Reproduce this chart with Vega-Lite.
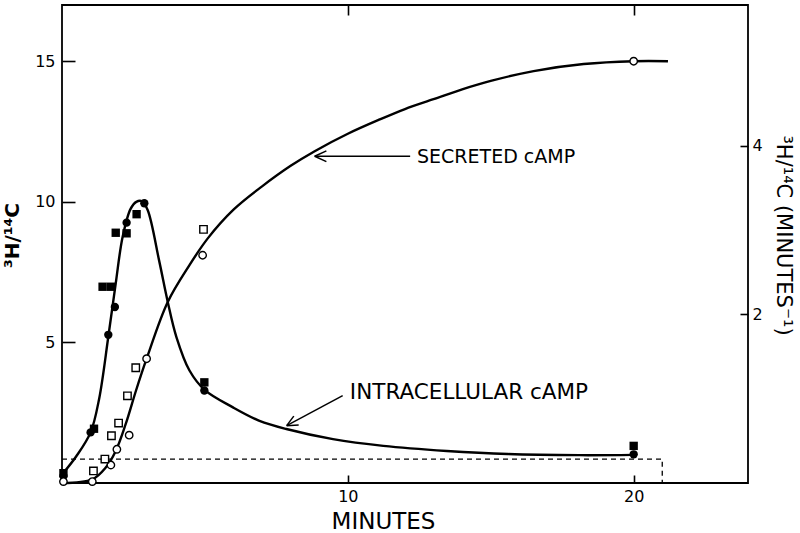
{
  "$schema": "https://vega.github.io/schema/vega-lite/v6.json",
  "autosize": {"type": "none"},
  "padding": {"left": 62, "top": 5, "right": 52, "bottom": 50},
  "width": 686,
  "height": 478,
  "background": "white",
  "config": {
    "view": {"stroke": "black", "strokeWidth": 1.8},
    "font": "DejaVu Sans",
    "axis": {"ticks": true, "zindex": 1}
  },
  "datasets": {
    "curves": [
      {"series": "intra", "t": 0, "v": 0.3},
      {"series": "intra", "t": 0.5, "v": 0.95},
      {"series": "intra", "t": 1.0, "v": 1.8},
      {"series": "intra", "t": 1.3, "v": 3.0},
      {"series": "intra", "t": 1.62, "v": 5.2},
      {"series": "intra", "t": 1.88, "v": 7.1},
      {"series": "intra", "t": 2.12, "v": 8.75},
      {"series": "intra", "t": 2.4, "v": 9.75},
      {"series": "intra", "t": 2.6, "v": 10.0},
      {"series": "intra", "t": 2.8, "v": 10.02},
      {"series": "intra", "t": 3.0, "v": 9.7},
      {"series": "intra", "t": 3.4, "v": 7.9},
      {"series": "intra", "t": 3.7, "v": 6.44},
      {"series": "intra", "t": 4.0, "v": 5.2},
      {"series": "intra", "t": 4.46, "v": 4.0},
      {"series": "intra", "t": 5.0, "v": 3.3},
      {"series": "intra", "t": 5.98, "v": 2.69},
      {"series": "intra", "t": 6.91, "v": 2.21},
      {"series": "intra", "t": 7.85, "v": 1.92},
      {"series": "intra", "t": 9.48, "v": 1.56},
      {"series": "intra", "t": 11.24, "v": 1.32},
      {"series": "intra", "t": 13.46, "v": 1.14},
      {"series": "intra", "t": 15.6, "v": 1.03},
      {"series": "intra", "t": 18.1, "v": 0.99},
      {"series": "intra", "t": 20, "v": 1.0},
      {"series": "secr", "t": 0, "v": 0.0},
      {"series": "secr", "t": 1.06, "v": 0.13},
      {"series": "secr", "t": 1.53, "v": 0.55},
      {"series": "secr", "t": 1.88, "v": 1.14},
      {"series": "secr", "t": 2.23, "v": 2.1},
      {"series": "secr", "t": 2.59, "v": 3.29},
      {"series": "secr", "t": 2.96, "v": 4.42},
      {"series": "secr", "t": 3.7, "v": 6.44},
      {"series": "secr", "t": 4.46, "v": 7.75},
      {"series": "secr", "t": 5.1, "v": 8.7},
      {"series": "secr", "t": 6.0, "v": 9.72},
      {"series": "secr", "t": 7.0, "v": 10.55},
      {"series": "secr", "t": 8.0, "v": 11.28},
      {"series": "secr", "t": 8.84, "v": 11.8},
      {"series": "secr", "t": 10.0, "v": 12.42},
      {"series": "secr", "t": 11.12, "v": 12.93},
      {"series": "secr", "t": 12.0, "v": 13.3},
      {"series": "secr", "t": 13.0, "v": 13.65},
      {"series": "secr", "t": 14.0, "v": 14.0},
      {"series": "secr", "t": 15.0, "v": 14.3},
      {"series": "secr", "t": 16.5, "v": 14.65},
      {"series": "secr", "t": 18.25, "v": 14.9},
      {"series": "secr", "t": 20.0, "v": 15.0},
      {"series": "secr", "t": 21.2, "v": 15.0}
    ],
    "filled": [
      {"shape": "circle", "t": 0.05, "v": 0.25},
      {"shape": "square", "t": 0.05, "v": 0.35},
      {"shape": "circle", "t": 1.0, "v": 1.8},
      {"shape": "square", "t": 1.12, "v": 1.93},
      {"shape": "circle", "t": 1.62, "v": 5.27},
      {"shape": "circle", "t": 1.85, "v": 6.26},
      {"shape": "circle", "t": 2.26, "v": 9.26},
      {"shape": "circle", "t": 2.88, "v": 9.95},
      {"shape": "circle", "t": 4.98, "v": 3.29},
      {"shape": "circle", "t": 20, "v": 1.02},
      {"shape": "square", "t": 1.42, "v": 6.98},
      {"shape": "square", "t": 1.71, "v": 6.98},
      {"shape": "square", "t": 1.88, "v": 8.9},
      {"shape": "square", "t": 2.26, "v": 8.88},
      {"shape": "square", "t": 2.61, "v": 9.56},
      {"shape": "square", "t": 4.98, "v": 3.58},
      {"shape": "square", "t": 20, "v": 1.32}
    ],
    "open": [
      {"shape": "circle", "t": 0.05, "v": 0.05},
      {"shape": "circle", "t": 1.06, "v": 0.05},
      {"shape": "circle", "t": 1.71, "v": 0.64},
      {"shape": "circle", "t": 1.92, "v": 1.2},
      {"shape": "circle", "t": 2.35, "v": 1.7},
      {"shape": "circle", "t": 2.96, "v": 4.42},
      {"shape": "circle", "t": 4.92, "v": 8.1},
      {"shape": "circle", "t": 20, "v": 15.0},
      {"shape": "square", "t": 1.1, "v": 0.43},
      {"shape": "square", "t": 1.5, "v": 0.85},
      {"shape": "square", "t": 1.73, "v": 1.68},
      {"shape": "square", "t": 1.98, "v": 2.13},
      {"shape": "square", "t": 2.29, "v": 3.1},
      {"shape": "square", "t": 2.58, "v": 4.1},
      {"shape": "square", "t": 4.95, "v": 9.02}
    ],
    "box": [
      {"i": 1, "t": 0, "v": 0.85},
      {"i": 2, "t": 21.0, "v": 0.85},
      {"i": 3, "t": 21.0, "v": 0}
    ],
    "arrows": [
      {"t": 12.18, "v": 11.62, "t2": 8.84, "v2": 11.62},
      {"t": 8.84, "v": 11.62, "t2": 9.25, "v2": 11.81},
      {"t": 8.84, "v": 11.62, "t2": 9.25, "v2": 11.43},
      {"t": 9.82, "v": 3.11, "t2": 7.86, "v2": 2.04},
      {"t": 7.86, "v": 2.04, "t2": 8.28, "v2": 2.06},
      {"t": 7.86, "v": 2.04, "t2": 8.11, "v2": 2.38}
    ],
    "label1": [
      {"t": 12.42, "v": 11.6, "text": "SECRETED cAMP"}
    ],
    "label2": [
      {"t": 10.07, "v": 3.21, "text": "INTRACELLULAR cAMP"}
    ],
    "right": [
      {"t": 0, "r": 0},
      {"t": 24, "r": 5.667}
    ]
  },
  "layer": [
    {
      "layer": [
        {
          "data": {"name": "box"},
          "mark": {"type": "line", "color": "black", "strokeWidth": 1.3, "strokeDash": [5, 4]},
          "encoding": {
            "x": {"field": "t", "type": "quantitative"},
            "y": {"field": "v", "type": "quantitative"},
            "order": {"field": "i"}
          }
        },
        {
          "data": {"name": "curves"},
          "mark": {"type": "line", "color": "black", "strokeWidth": 2.4, "interpolate": "catmull-rom"},
          "encoding": {
            "x": {"field": "t", "type": "quantitative"},
            "y": {"field": "v", "type": "quantitative"},
            "detail": {"field": "series"}
          }
        },
        {
          "data": {"name": "arrows"},
          "mark": {"type": "rule", "color": "black", "strokeWidth": 1.5},
          "encoding": {
            "x": {"field": "t", "type": "quantitative"},
            "y": {"field": "v", "type": "quantitative"},
            "x2": {"field": "t2"},
            "y2": {"field": "v2"}
          }
        },
        {
          "data": {"name": "filled"},
          "mark": {"type": "point", "filled": true, "color": "black", "size": 70, "opacity": 1},
          "encoding": {
            "x": {"field": "t", "type": "quantitative"},
            "y": {"field": "v", "type": "quantitative"},
            "shape": {"field": "shape", "type": "nominal", "scale": {"domain": ["circle", "square"], "range": ["circle", "square"]}, "legend": null}
          }
        },
        {
          "data": {"name": "open"},
          "mark": {"type": "point", "filled": false, "fill": "white", "fillOpacity": 1, "stroke": "black", "strokeWidth": 1.4, "size": 55, "opacity": 1},
          "encoding": {
            "x": {"field": "t", "type": "quantitative"},
            "y": {"field": "v", "type": "quantitative"},
            "shape": {"field": "shape", "type": "nominal", "scale": {"domain": ["circle", "square"], "range": ["circle", "square"]}, "legend": null}
          }
        },
        {
          "data": {"name": "label1"},
          "mark": {"type": "text", "align": "left", "baseline": "middle", "fontSize": 19, "font": "DejaVu Sans", "color": "black"},
          "encoding": {
            "x": {"field": "t", "type": "quantitative"},
            "y": {"field": "v", "type": "quantitative"},
            "text": {"field": "text"}
          }
        },
        {
          "data": {"name": "label2"},
          "mark": {"type": "text", "align": "left", "baseline": "middle", "fontSize": 21.5, "font": "DejaVu Sans", "color": "black"},
          "encoding": {
            "x": {"field": "t", "type": "quantitative"},
            "y": {"field": "v", "type": "quantitative"},
            "text": {"field": "text"}
          }
        }
      ],
      "encoding": {
        "x": {
          "type": "quantitative",
          "scale": {"domain": [0, 24], "nice": false, "zero": false},
          "axis": {
            "orient": "bottom", "values": [10, 20], "grid": false, "domain": false, "ticks": true,
            "offset": -8, "tickSize": 8, "tickColor": "black", "tickWidth": 1.6, "tickOpacity": 1,
            "labelFontSize": 16, "labelColor": "black", "labelPadding": 5, "labelFont": "DejaVu Sans",
            "title": "MINUTES", "titleFontSize": 23, "titleFontWeight": "normal", "titleColor": "black",
            "titleFont": "DejaVu Sans", "titleX": 321, "titleY": 46, "titleBaseline": "middle"
          }
        },
        "y": {
          "type": "quantitative",
          "scale": {"domain": [0, 17], "nice": false, "zero": false},
          "axis": {
            "orient": "left", "values": [5, 10, 15], "grid": false, "domain": false, "ticks": true,
            "offset": -13, "tickSize": 13, "tickColor": "black", "tickWidth": 1.6, "tickOpacity": 1,
            "labelFontSize": 16, "labelColor": "black", "labelPadding": 7, "labelFont": "DejaVu Sans",
            "title": "³H/¹⁴C", "titleFontSize": 20, "titleFontWeight": "bold", "titleColor": "black",
            "titleFont": "DejaVu Sans", "titlePadding": 12, "titleY": 230
          }
        }
      }
    },
    {
      "data": {"name": "right"},
      "mark": {"type": "point", "opacity": 0},
      "encoding": {
        "x": {
          "field": "t", "type": "quantitative",
          "scale": {"domain": [0, 24], "nice": false, "zero": false},
          "axis": {
            "orient": "top", "values": [10, 20], "grid": false, "domain": false, "labels": false, "ticks": true,
            "offset": -10, "tickSize": 10, "tickColor": "black", "tickWidth": 1.6, "tickOpacity": 1, "title": null
          }
        },
        "y": {
          "field": "r", "type": "quantitative",
          "scale": {"domain": [0, 5.667], "nice": false, "zero": false},
          "axis": {
            "orient": "right", "values": [2, 4], "grid": false, "domain": false, "ticks": true,
            "offset": -8, "tickSize": 8, "tickColor": "black", "tickWidth": 1.6, "tickOpacity": 1,
            "labelFontSize": 16, "labelColor": "black", "labelPadding": 4, "labelFont": "DejaVu Sans",
            "title": "³H/¹⁴C     (MINUTES⁻¹)", "titleFontSize": 21, "titleFontWeight": "normal", "titleColor": "black",
            "titleFont": "DejaVu Sans", "titlePadding": 10, "titleY": 230
          }
        }
      }
    }
  ],
  "resolve": {
    "scale": {"x": "independent", "y": "independent"},
    "axis": {"x": "independent", "y": "independent"}
  }
}
